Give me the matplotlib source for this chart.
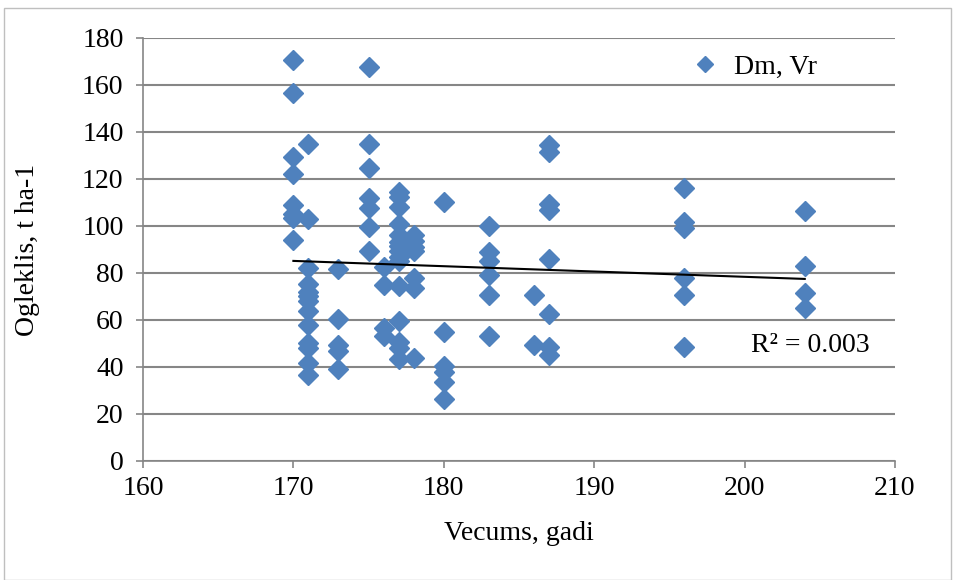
import numpy as np
import matplotlib
matplotlib.use("Agg")
import matplotlib.pyplot as plt
from matplotlib.patches import Rectangle

# Data
age_170 = [170.5, 156.5, 129.5, 122, 109, 105, 103.5, 94]
age_171 = [135, 103, 82, 75.5, 72, 70, 68, 64, 58, 50, 48, 41.5, 36.5]
age_173 = [81.5, 60.5, 49.5, 47, 39]
age_175 = [167.5, 135, 124.5, 112, 107.5, 99.5, 89.5]
age_176 = [82.5, 75, 56.5, 53]
age_177 = [114.5, 112.5, 108, 101, 96, 93, 91.5, 89.5, 87, 85, 74.5, 59.5, 50.5, 48, 43.5]
age_178 = [96, 93.5, 91, 89.5, 78, 73.5, 44]
age_180 = [110, 55, 40.5, 38, 33.5, 26.5]
age_183 = [100, 89, 85, 79, 70.5, 53]
age_186 = [70.5, 49.5]
age_187 = [134.5, 131.5, 109.5, 107, 86, 62.5, 48.5, 45]
age_196 = [116, 101.5, 99, 78, 70.5, 48.5]
age_204 = [106.5, 83, 71.5, 65]

groups = {170: age_170, 171: age_171, 173: age_173, 175: age_175, 176: age_176,
          177: age_177, 178: age_178, 180: age_180, 183: age_183, 186: age_186,
          187: age_187, 196: age_196, 204: age_204}

x_ticks = [160, 170, 180, 190, 200, 210]
y_ticks = [0, 20, 40, 60, 80, 100, 120, 140, 160, 180]
series_label = "Dm, Vr"
r2_label = "R² = 0.003"
x_label = "Vecums, gadi"
y_label = "Ogleklis, t ha-1"

x = np.concatenate([[k] * len(v) for k, v in groups.items()]).astype(float)
y = np.concatenate([v for v in groups.values()]).astype(float)

plt.rcParams['font.family'] = ['Liberation Serif', 'DejaVu Serif']
FS = 20

fig = plt.figure(figsize=(9.57, 5.80), dpi=100)
ax = fig.add_axes([0.1494, 0.2052, 0.9352 - 0.1494, 0.9345 - 0.2052])

grid_c = '#868686'
ax.set_xlim(160, 210)
ax.set_ylim(0, 180)
ax.set_xticks(x_ticks)
ax.set_yticks(y_ticks)
ax.yaxis.grid(True, color=grid_c, linewidth=1.5)
ax.set_axisbelow(True)
for s in ['top', 'right']:
    ax.spines[s].set_visible(False)
for s in ['left', 'bottom']:
    ax.spines[s].set_color(grid_c)
    ax.spines[s].set_linewidth(1.2)
ax.tick_params(axis='both', colors=grid_c, length=5, width=1.2, labelsize=FS,
               labelcolor='black')
ax.tick_params(axis='y', pad=9)
ax.tick_params(axis='x', pad=6)

ax.plot(x, y, linestyle='none', marker='D', markersize=10, color='#4F81BD',
        markeredgecolor='#4F81BD', label=series_label, zorder=3)

coef = np.polyfit(x, y, 1)
xl = np.array([x.min(), x.max()])
ax.plot(xl, np.polyval(coef, xl), color='black', linewidth=1.5, zorder=4)

ax.text(0.808, 0.272, r2_label, transform=ax.transAxes, fontsize=FS, ha='left', va='center')

leg = ax.legend(loc='upper right', bbox_to_anchor=(0.93, 1.02), frameon=False,
                fontsize=FS, handletextpad=0.05, markerscale=0.85)

ax.set_xlabel(x_label, fontsize=FS, labelpad=14)
ax.set_ylabel(y_label, fontsize=FS, labelpad=30)

fig.patches.append(Rectangle((4 / 957, 0), 947 / 957, 1 - 8 / 580, transform=fig.transFigure,
                             fill=False, edgecolor='#BFBFBF', linewidth=1.0))

fig.savefig('out.png', dpi=100)
